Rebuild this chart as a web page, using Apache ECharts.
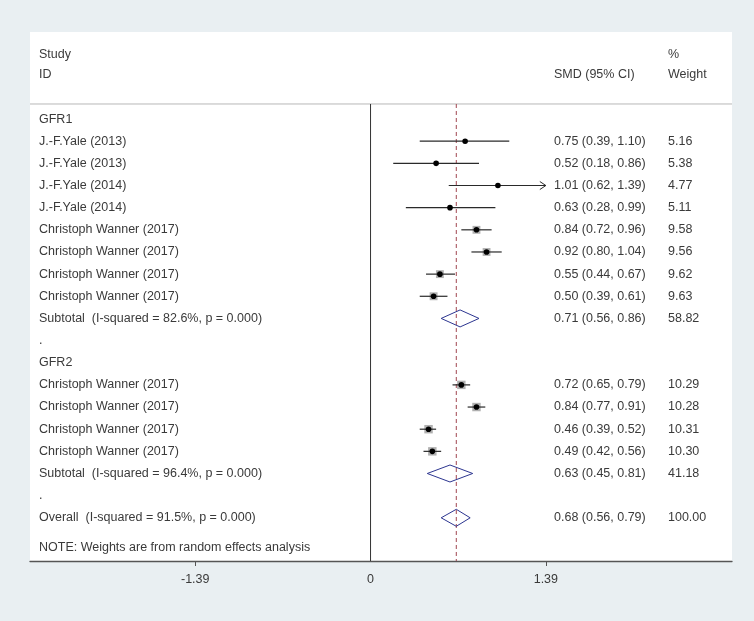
<!DOCTYPE html>
<html>
<head>
<meta charset="utf-8">
<script src="https://cdn.jsdelivr.net/npm/echarts@6/dist/echarts.min.js"></script>
<style>
  html, body { margin: 0; padding: 0; background: #e9eff2; }
  #chart { width: 754px; height: 621px; }
</style>
</head>
<body>
<div id="chart"></div>
<script>
// ---------- data ----------
const rowLabels = [
  'GFR1',
  'J.-F.Yale (2013)', 'J.-F.Yale (2013)', 'J.-F.Yale (2014)', 'J.-F.Yale (2014)',
  'Christoph Wanner (2017)', 'Christoph Wanner (2017)', 'Christoph Wanner (2017)', 'Christoph Wanner (2017)',
  'Subtotal  (I-squared = 82.6%, p = 0.000)',
  '.',
  'GFR2',
  'Christoph Wanner (2017)', 'Christoph Wanner (2017)', 'Christoph Wanner (2017)', 'Christoph Wanner (2017)',
  'Subtotal  (I-squared = 96.4%, p = 0.000)',
  '.',
  'Overall  (I-squared = 91.5%, p = 0.000)',
  'NOTE: Weights are from random effects analysis'
];
const rowPos = [0, 1, 2, 3, 4, 5, 6, 7, 8, 9, 10, 11, 12, 13, 14, 15, 16, 17, 18, 19.35];
const rowKind = [
  'group', 'study', 'study', 'study', 'study', 'study', 'study', 'study', 'study',
  'subtotal', 'blank', 'group', 'study', 'study', 'study', 'study', 'subtotal', 'blank',
  'overall', 'note'
];
const smd    = [null, 0.75, 0.52, 1.01, 0.63, 0.84, 0.92, 0.55, 0.50, 0.71, null, null, 0.72, 0.84, 0.46, 0.49, 0.63, null, 0.68, null];
const ciLow  = [null, 0.39, 0.18, 0.62, 0.28, 0.72, 0.80, 0.44, 0.39, 0.56, null, null, 0.65, 0.77, 0.39, 0.42, 0.45, null, 0.56, null];
const ciHigh = [null, 1.10, 0.86, 1.39, 0.99, 0.96, 1.04, 0.67, 0.61, 0.86, null, null, 0.79, 0.91, 0.52, 0.56, 0.81, null, 0.79, null];
const weights = [null, 5.16, 5.38, 4.77, 5.11, 9.58, 9.56, 9.62, 9.63, 58.82, null, null, 10.29, 10.28, 10.31, 10.30, 41.18, null, 100.00, null];

const headerLabels = ['Study', 'ID', 'SMD (95% CI)', '%', 'Weight'];
const headerPos = [-2.89, -1.99, -1.99, -2.89, -1.99];
const headerCol = ['label', 'label', 'ci', 'weight', 'weight'];

const tickValues = [-1.39, 0, 1.39];
const tickLabels = ['-1.39', '0', '1.39'];
const plotLimit = 1.39;
const overallEstimate = 0.68;

// ---------- styling ----------
const FONT = '"Liberation Sans", Arial, sans-serif';
const TXT = '#3a3a3a';
const FS = 12.5;
const colX = { label: 39, ci: 554, weight: 668 };
const DIVIDER_POS = -0.68;

function txt(x, y, s) {
  return {
    type: 'text', x: x, y: y,
    style: { text: s, fill: TXT, fontSize: FS, fontFamily: FONT, align: 'left', verticalAlign: 'middle' }
  };
}

const rowData = rowLabels.map((_, i) => [i, rowPos[i]]);
const headerData = headerLabels.map((_, i) => [i, headerPos[i]]);

const chart = echarts.init(document.getElementById('chart'), null, { renderer: 'canvas' });
chart.setOption({
  backgroundColor: '#e9eff2',
  animation: false,
  grid: { left: 30, right: 22, top: 32, bottom: 60, show: true, backgroundColor: '#ffffff', borderWidth: 0 },
  xAxis: {
    type: 'value', min: -2.70, max: 2.866,
    splitLine: { show: false },
    axisLine: { show: true, onZero: false, lineStyle: { color: '#555', width: 1.3 } },
    axisTick: { show: true, customValues: [-1.39, 1.39], length: 5, lineStyle: { color: '#555' } },
    axisLabel: {
      customValues: tickValues, margin: 12, color: TXT, fontSize: FS, fontFamily: FONT,
      formatter: (v) => { const i = tickValues.findIndex(t => Math.abs(t - v) < 1e-6); return i >= 0 ? tickLabels[i] : ''; }
    }
  },
  yAxis: {
    type: 'value', inverse: true, min: -3.93, max: 19.95, show: false
  },
  series: [
    {
      // frame: header divider, zero line, overall dashed line
      type: 'custom', z: 1, silent: true,
      data: [[overallEstimate]],
      renderItem: (params, api) => {
        const cs = params.coordSys;
        const yDiv = api.coord([0, DIVIDER_POS])[1];
        const yBot = cs.y + cs.height;
        const x0 = api.coord([0, 0])[0];
        const xo = api.coord([api.value(0), 0])[0];
        return {
          type: 'group',
          children: [
            { type: 'line', shape: { x1: cs.x, y1: yDiv, x2: cs.x + cs.width, y2: yDiv }, style: { stroke: '#b8b8b8', lineWidth: 1 } },
            { type: 'line', shape: { x1: x0, y1: yDiv, x2: x0, y2: yBot }, style: { stroke: '#333', lineWidth: 1 } },
            { type: 'line', shape: { x1: xo, y1: yDiv, x2: xo, y2: yBot }, style: { stroke: '#a04550', lineWidth: 1, lineDash: [4, 3] } }
          ]
        };
      }
    },
    {
      // header texts
      type: 'custom', z: 2, silent: true,
      data: headerData,
      renderItem: (params, api) => {
        const i = api.value(0);
        const y = api.coord([0, api.value(1)])[1];
        return txt(colX[headerCol[i]], y, headerLabels[i]);
      }
    },
    {
      // study rows
      type: 'custom', z: 3, silent: true,
      data: rowData,
      renderItem: (params, api) => {
        const i = api.value(0);
        const y = api.coord([0, api.value(1)])[1];
        const kind = rowKind[i];
        const children = [txt(colX.label, y, rowLabels[i])];
        if (smd[i] != null) {
          children.push(txt(colX.ci, y, smd[i].toFixed(2) + ' (' + ciLow[i].toFixed(2) + ', ' + ciHigh[i].toFixed(2) + ')'));
          children.push(txt(colX.weight, y, weights[i].toFixed(2)));
          const xe = api.coord([smd[i], 0])[0];
          const xl = api.coord([ciLow[i], 0])[0];
          const xh = api.coord([Math.min(ciHigh[i], plotLimit), 0])[0];
          if (kind === 'study') {
            const side = weights[i] * 0.82;
            children.push({ type: 'rect', shape: { x: xe - side / 2, y: y - side / 2, width: side, height: side }, style: { fill: '#b0b0b0' } });
            children.push({ type: 'line', shape: { x1: xl, y1: y, x2: xh, y2: y }, style: { stroke: '#2a2a2a', lineWidth: 1.2 } });
            if (ciHigh[i] >= plotLimit) {
              children.push({ type: 'polyline', shape: { points: [[xh - 6, y - 4], [xh, y], [xh - 6, y + 4]] }, style: { stroke: '#2a2a2a', lineWidth: 1, fill: null } });
            }
            children.push({ type: 'circle', shape: { cx: xe, cy: y, r: 2.8 }, style: { fill: '#000' } });
          } else {
            const h = 8.5;
            children.push({
              type: 'polygon',
              shape: { points: [[xl, y], [xe, y - h], [xh, y], [xe, y + h]] },
              style: { fill: null, stroke: '#2c3590', lineWidth: 1 }
            });
          }
        }
        return { type: 'group', children: children };
      }
    }
  ]
});
</script>
</body>
</html>
